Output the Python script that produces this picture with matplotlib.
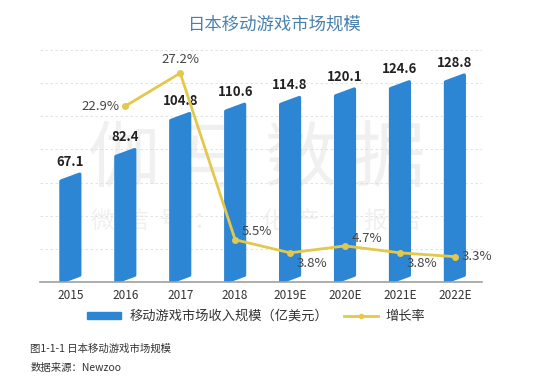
import matplotlib
matplotlib.use("Agg")
import matplotlib.pyplot as plt
import numpy as np
from matplotlib.patches import Polygon
from matplotlib.lines import Line2D
from matplotlib.patches import Patch

plt.rcParams['font.family'] = ['Noto Sans CJK SC', 'DejaVu Sans']

years = ["2015", "2016", "2017", "2018", "2019E", "2020E", "2021E", "2022E"]
revenue = [67.1, 82.4, 104.8, 110.6, 114.8, 120.1, 124.6, 128.8]
growth_years = ["2016", "2017", "2018", "2019E", "2020E", "2021E", "2022E"]
growth = [22.9, 27.2, 5.5, 3.8, 4.7, 3.8, 3.3]

title = "日本移动游戏市场规模"
bar_label = "移动游戏市场收入规模（亿美元）"
line_label = "增长率"
caption1 = "图1-1-1 日本移动游戏市场规模"
caption2 = "数据来源：Newzoo"

BLUE = "#2D86D3"
GOLD = "#E3C84B"

fig = plt.figure(figsize=(5.5, 3.85), dpi=100)
ax = fig.add_axes([0.073, 0.2675, 0.803, 0.6025])
ax2 = ax.twinx()

YMAX = 144.4
x = list(range(len(years)))
ax.set_xlim(-0.55, 7.49)
ax.set_ylim(0, YMAX)
ax2.set_ylim(0, 30.2)

# watermark
ax.text(0.49, 0.52, "伽 马 数 据", transform=ax.transAxes, ha="center", va="center",
        fontsize=52, color="#F0F0F0", zorder=0)
ax.text(0.49, 0.26, "微  信  号  ：  文  化  产  业  报  告", transform=ax.transAxes,
        ha="center", va="center", fontsize=17, color="#F0F0F0", zorder=0)

# bars: slanted parallelogram shapes
w = 0.34
s = 4.3
for xi, v in zip(x, revenue):
    poly = Polygon([(xi - w / 2, 0), (xi + w / 2, s), (xi + w / 2, v), (xi - w / 2, v - s)],
                   closed=True, facecolor=BLUE, edgecolor=BLUE, linewidth=2.5,
                   joinstyle="round", zorder=2)
    ax.add_patch(poly)
    ax.annotate(f"{v}", (xi, v), xytext=(0, 4), textcoords="offset points",
                ha="center", va="bottom", fontsize=9.5,
                fontweight="bold", color="#222222", zorder=5)

# grid
for g in np.linspace(0, YMAX, 8)[1:]:
    ax.axhline(g, color="#DDDDDD", lw=0.6, ls=(0, (3, 3)), zorder=1)
ax.spines[["top", "right", "left"]].set_visible(False)
ax2.spines[["top", "right", "left", "bottom"]].set_visible(False)
ax.spines["bottom"].set_color("#A0A0A0")
ax.spines["bottom"].set_linewidth(1.2)
ax.set_yticks([])
ax2.set_yticks([])
ax.set_xticks(x)
ax.set_xticklabels(years, fontsize=8.5, color="#333333")
ax.tick_params(axis="x", length=0, pad=5)

# growth line
gx = [years.index(y) for y in growth_years]
ax2.plot(gx, growth, color=GOLD, lw=2, marker="o", ms=4, zorder=4)
offsets = [(-4, 0, "right", "center"), (0, 5, "center", "bottom"), (5, 1, "left", "bottom"),
           (5, -3, "left", "top"), (5, 1, "left", "bottom"), (5, -3, "left", "top"),
           (5, 0, "left", "center")]
for xi, gv, (dx, dy, ha, va) in zip(gx, growth, offsets):
    ax2.annotate(f"{gv}%", (xi, gv), xytext=(dx, dy), textcoords="offset points",
                 ha=ha, va=va, fontsize=9.5, color="#444444", zorder=5)

ax.set_zorder(1)
ax2.set_zorder(2)
ax.patch.set_visible(False)

fig.text(0.5, 0.935, title, ha="center", va="center", fontsize=12.5, color="#4A80AC")

handles = [Patch(facecolor=BLUE, edgecolor=BLUE),
           Line2D([0], [0], color=GOLD, lw=2, marker="o", ms=3)]
fig.legend(handles, [bar_label, line_label], loc="center", bbox_to_anchor=(0.466, 0.178),
           ncol=2, frameon=False, fontsize=9.5, handlelength=2.6, handleheight=0.5,
           columnspacing=1.2, handletextpad=0.6, labelcolor="#333333")

fig.text(0.055, 0.094, caption1, ha="left", va="center", fontsize=7.5, color="#333333")
fig.text(0.055, 0.044, caption2, ha="left", va="center", fontsize=7.5, color="#333333")

fig.savefig("out.png", dpi=100)
